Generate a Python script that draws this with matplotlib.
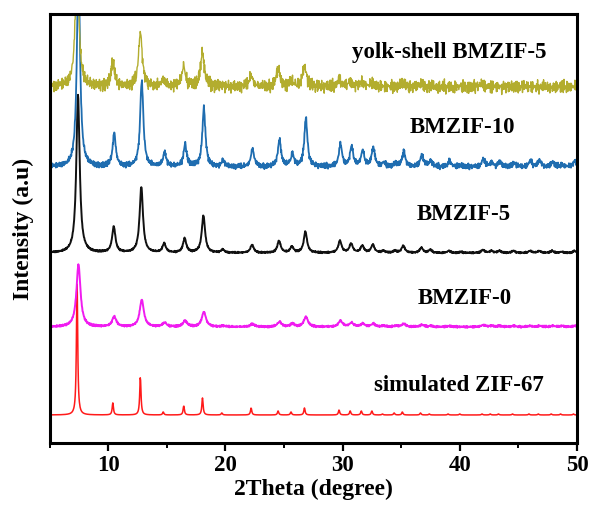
import matplotlib
matplotlib.use("Agg")
import matplotlib.pyplot as plt
from matplotlib.ticker import MultipleLocator
import numpy as np

plt.rcParams["font.family"] = ["Liberation Serif", "DejaVu Serif"]
plt.rcParams["font.weight"] = "bold"

# peak positions (2theta) shared by every pattern
peak_pos = [7.35, 10.4, 12.75, 14.7, 16.45, 18.05, 19.7, 22.2, 24.5, 25.6, 26.75,
            29.7, 30.65, 31.6, 32.5, 33.4, 34.4, 35.1, 36.65, 37.4, 39.0, 40.0,
            41.9, 42.6, 43.3, 44.5, 45.9, 46.7, 47.8, 48.6, 49.7]

# peak heights, one list per sample
h_sim = [134, 12, 38, 3, 9, 17, 2, 7, 4, 3, 7, 5, 4, 4, 4, 1, 2, 3, 2, 1, 1, 1,
         1, 1, 1, 1, 1, 1, 1, 1, 1]
h_bm0 = [62, 10, 27, 4, 6, 15, 1, 3, 5, 3, 10, 6, 4, 3, 3, 1, 1, 3, 2, 1, 1, 0,
         2, 1, 1, 1, 1, 1, 1, 1, 1]
h_bm5 = [158, 26, 66, 9, 14, 37, 3, 8, 12, 6, 21, 12, 9, 7, 8, 2, 2, 7, 5, 3, 2, 1,
         3, 2, 2, 2, 2, 2, 2, 1, 2]
h_bm10 = [200, 33, 86, 14, 22, 58, 6, 18, 27, 12, 48, 22, 20, 16, 19, 4, 3, 15, 12, 6, 6, 2,
          8, 4, 5, 4, 6, 6, 5, 2, 6]
h_yolk = [120, 24, 54, 6, 20, 34, 2, 11, 18, 5, 21, 7, 5, 4, 4, 0, 0, 4, 3, 0, 0, 0,
          3, 0, 0, 0, 0, 0, 0, 0, 0]

names = ["simulated ZIF-67", "BMZIF-0", "BMZIF-5", "BMZIF-10", "yolk-shell BMZIF-5"]
heights = [h_sim, h_bm0, h_bm5, h_bm10, h_yolk]
offsets = [28, 116, 190, 276, 356]
shifts = [0.0, 0.12, 0.08, 0.12, 0.0]
widths = [0.13, 0.42, 0.34, 0.32, 0.38]
noise_amp = [0.0, 1.2, 1.0, 3.5, 8.0]
line_w = [1.1, 1.4, 1.4, 1.3, 1.0]
colors = ["#ff1a1a", "#f01cf0", "#111111", "#1f6db0", "#b3ad2e"]
label_xy = [(39.9, 57), (40.4, 144), (40.3, 228), (40.2, 315), (39.1, 390)]

# fixed jitter pattern for the measured (noisy) traces
jit_a = [0.3, -0.8, 0.6, -0.2, 0.9, -0.5, 0.1, -0.9, 0.4, 0.7, -0.3, -0.6, 0.8, -0.1,
         0.5, -0.7, 0.2, 1.0, -0.4, 0.0, -1.0, 0.6, -0.2, 0.3, -0.8, 0.7, -0.5, 0.9,
         -0.1, 0.4, -0.9, 0.2, 0.5, -0.6, 0.8, -0.3, 0.1, -0.7, 0.6, -0.4, 0.9, -0.2,
         0.0, 0.7, -0.8, 0.3, -0.5, 0.4, 1.0, -0.6, 0.2, -0.1, -0.9]
jit_b = [-0.4, 0.5, 0.1, -0.7, 0.8, -0.2, 0.3, 0.6, -0.9, 0.0, 0.4, -0.5, 0.9, -0.3,
         0.2, -0.8, 0.7, -0.1, 0.5, -0.6, 0.3, 1.0, -0.4, -0.2, 0.6, -0.9, 0.1, 0.8,
         -0.5, 0.4, -0.7, 0.2, 0.9, -0.3, -0.1, 0.6, -0.8, 0.5, 0.0, -0.6, 0.7, -0.2,
         0.3, -1.0, 0.4, 0.1, -0.4]

tt = np.arange(5.0, 50.01, 0.03)
jit = (np.resize(jit_a, tt.size) + np.resize(jit_b, tt.size)) / 2.0

fig = plt.figure(figsize=(5.93, 5.12), dpi=100)
ax = fig.add_axes([0.0835, 0.1348, 0.8895, 0.8379])

for k in range(len(names)):
    y = np.zeros_like(tt)
    g = widths[k] / 2.0
    for p, h in zip(peak_pos, heights[k]):
        y += h * g ** 2 / ((tt - p - shifts[k]) ** 2 + g ** 2)
    y += noise_amp[k] * np.roll(jit, 17 * k)
    ax.plot(tt, y + offsets[k], color=colors[k], lw=line_w[k])
    ax.text(label_xy[k][0], label_xy[k][1], names[k], ha="center", va="center",
            fontsize=16.5, fontweight="bold")

ax.set_xlim(5, 50)
ax.set_ylim(0, 429)
ax.set_yticks([])
ax.xaxis.set_major_locator(MultipleLocator(10))
ax.xaxis.set_minor_locator(MultipleLocator(5))
ax.tick_params(axis="x", which="major", direction="out", length=6, width=1.6,
               labelsize=16.5, pad=3)
ax.tick_params(axis="x", which="minor", direction="out", length=3.5, width=1.4)
for lab in ax.get_xticklabels():
    lab.set_fontweight("bold")
for s in ax.spines.values():
    s.set_linewidth(2.2)
ax.set_xlabel("2Theta (degree)", fontsize=17, fontweight="bold", labelpad=2)
ax.set_ylabel("Intensity (a.u)", fontsize=17, fontweight="bold", labelpad=11)

fig.savefig("out.png", dpi=100)
